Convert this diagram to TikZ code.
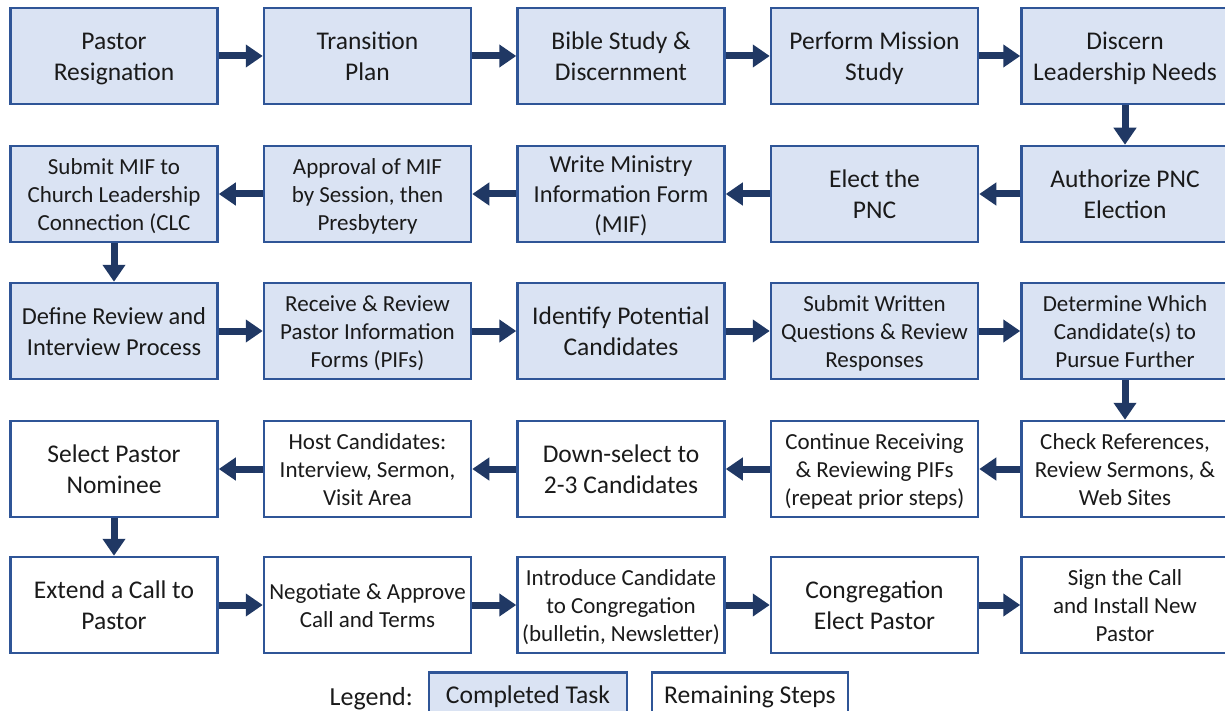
\documentclass[tikz,border=0pt]{standalone}
\usepackage{fontspec}
\setmainfont{Carlito}
\usetikzlibrary{arrows.meta}
\definecolor{bfill}{HTML}{DAE3F3}
\definecolor{bline}{HTML}{2F5597}
\definecolor{arr}{HTML}{203864}
\definecolor{txt}{HTML}{1A1A1A}
\newcommand\ts{\rule{0pt}{\dimexpr0.75\baselineskip+3pt\relax}}
\newcommand\tl{\rule{0pt}{\dimexpr0.75\baselineskip-2pt\relax}}
\newcommand\bs{\rule[-0.25\baselineskip]{0pt}{0.25\baselineskip}}
\begin{document}
\begin{tikzpicture}[x=1pt,y=-1pt,
  frame/.style={draw=bline, line width=2.5pt, inner sep=0pt, align=center, text=txt, execute at end node=\bs},
  box/.style={frame, minimum width=207pt, minimum height=96pt},
  done/.style={box, fill=bfill},
  todo/.style={box, fill=white},
  fs/.style 2 args={font=\fontsize{#1}{#2}\selectfont},
  big/.style={fs={25.5}{31}},
  small/.style={fs={23}{28}},
  flow/.style={-{Triangle[width=22pt,length=17pt]}, line width=7pt, draw=arr}]
\useasboundingbox (0,0) rectangle (1225,711);
% row 1
\node[done,big] (a1) at (114,56) {\ts Pastor\\Resignation};
\node[done,big] (a2) at (367.5,56) {\ts Transition\\Plan};
\node[done,big] (a3) at (621,56) {\ts Bible Study \&\\Discernment};
\node[done,big] (a4) at (874.5,56) {\ts Perform Mission\\Study};
\node[done,big] (a5) at (1125,56) {\ts Discern\\Leadership Needs};
% row 2
\node[done,small] (b1) at (114,194) {\ts Submit MIF to\\Church Leadership\\Connection (CLC};
\node[done,small] (b2) at (367.5,194) {\ts Approval of MIF\\by Session, then\\Presbytery};
\node[done,fs={24.4}{30}] (b3) at (621,194) {\ts Write Ministry\\Information Form\\(MIF)};
\node[done,big] (b4) at (874.5,194) {\ts Elect the\\PNC};
\node[done,big] (b5) at (1125,194) {\ts Authorize PNC\\Election};
% row 3
\node[done,fs={24.4}{30.5}] (c1) at (114,331) {\ts Define Review and\\Interview Process};
\node[done,small] (c2) at (367.5,331) {\ts Receive \& Review\\Pastor Information\\Forms (PIFs)};
\node[done,big] (c3) at (621,331) {\ts Identify Potential\\Candidates};
\node[done,small] (c4) at (874.5,331) {\ts Submit Written\\Questions \& Review\\Responses};
\node[done,small] (c5) at (1125,331) {\ts Determine Which\\Candidate(s) to\\Pursue Further};
% row 4
\node[todo,big] (d1) at (114,469) {\ts Select Pastor\\Nominee};
\node[todo,small] (d2) at (367.5,469) {\ts Host Candidates:\\Interview, Sermon,\\Visit Area};
\node[todo,big] (d3) at (621,469) {\ts Down-select to\\2-3 Candidates};
\node[todo,small] (d4) at (874.5,469) {\ts Continue Receiving\\\& Reviewing PIFs\\(repeat prior steps)};
\node[todo,small] (d5) at (1125,469) {\ts Check References,\\Review Sermons, \&\\Web Sites};
% row 5
\node[todo,big] (e1) at (114,605) {\ts Extend a Call to\\Pastor};
\node[todo,small] (e2) at (367.5,605) {\ts Negotiate \& Approve\\Call and Terms};
\node[todo,small] (e3) at (621,605) {\ts Introduce Candidate\\to Congregation\\(bulletin, Newsletter)};
\node[todo,big] (e4) at (874.5,605) {\ts Congregation\\Elect Pastor};
\node[todo,small] (e5) at (1125,605) {\ts Sign the Call\\and Install New\\Pastor};
% arrows
\draw[flow] (a1.east) -- (a2.west);
\draw[flow] (a2.east) -- (a3.west);
\draw[flow] (a3.east) -- (a4.west);
\draw[flow] (a4.east) -- (a5.west);
\draw[flow] (a5.south) -- (b5.north);
\draw[flow] (b5.west) -- (b4.east);
\draw[flow] (b4.west) -- (b3.east);
\draw[flow] (b3.west) -- (b2.east);
\draw[flow] (b2.west) -- (b1.east);
\draw[flow] (b1.south) -- (c1.north);
\draw[flow] (c1.east) -- (c2.west);
\draw[flow] (c2.east) -- (c3.west);
\draw[flow] (c3.east) -- (c4.west);
\draw[flow] (c4.east) -- (c5.west);
\draw[flow] (c5.south) -- (d5.north);
\draw[flow] (d5.west) -- (d4.east);
\draw[flow] (d4.west) -- (d3.east);
\draw[flow] (d3.west) -- (d2.east);
\draw[flow] (d2.west) -- (d1.east);
\draw[flow] (d1.south) -- (e1.north);
\draw[flow] (e1.east) -- (e2.west);
\draw[flow] (e2.east) -- (e3.west);
\draw[flow] (e3.east) -- (e4.west);
\draw[flow] (e4.east) -- (e5.west);
% legend
\node[font=\fontsize{26}{30}\selectfont, text=txt, anchor=base east, inner sep=0pt] (leg) at (413,705) {Legend:};
\node[frame, fill=bfill, fs={25.6}{30}, minimum width=198pt, minimum height=50pt, anchor=north] (ld) at (528,671) {\tl Completed Task};
\node[frame, fill=white, fs={25.6}{30}, minimum width=196pt, minimum height=50pt, anchor=north] (lr) at (750,671) {\tl Remaining Steps};
\end{tikzpicture}
\end{document}
